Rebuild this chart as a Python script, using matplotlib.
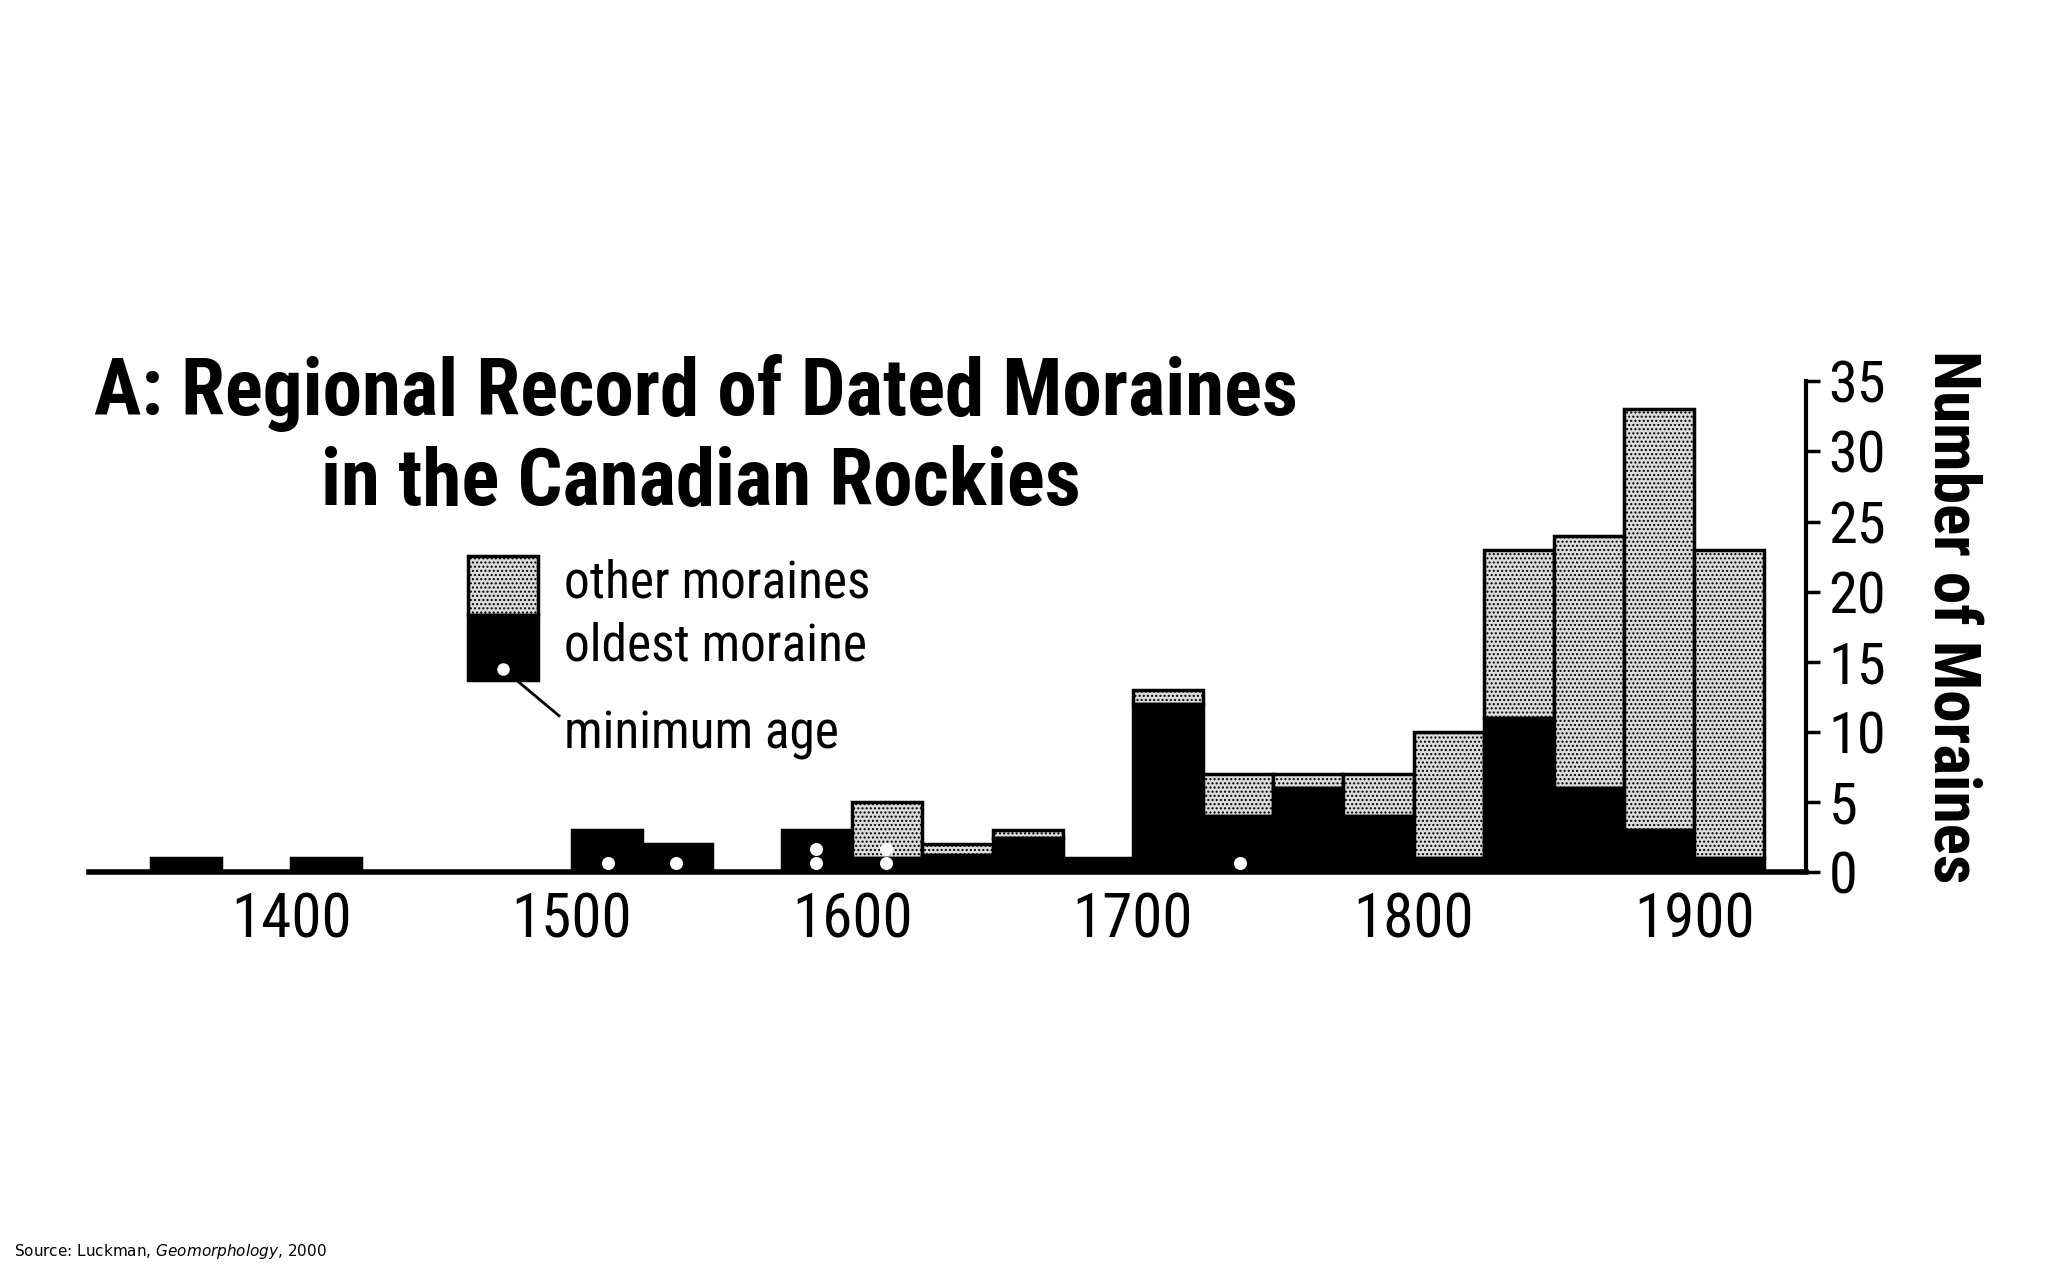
import matplotlib
matplotlib.use("Agg")
import matplotlib.pyplot as plt
from matplotlib.patches import Rectangle
from matplotlib.lines import Line2D
import numpy as np

bin_starts = [1350,1375,1400,1425,1450,1475,1500,1525,1550,1575,1600,1625,1650,1675,
              1700,1725,1750,1775,1800,1825,1850,1875,1900]
oldest = [1,0,1,0,0,0,3,2,0,3,1,1.2,2.4,1,12,4,6,4,1,11,6,3,1]
total  = [1,0,1,0,0,0,3,2,0,3,5,2,3,1,13,7,7,7,10,23,24,33,23]
dot_years = [1513,1537,1587,1587,1612,1612,1738]
dot_levels = [0.6,0.6,0.6,1.6,0.6,1.6,0.6]
xticks = [1400,1500,1600,1700,1800,1900]
yticks = [0,5,10,15,20,25,30,35]

FONT = ['Liberation Sans Narrow', 'Roboto Condensed', 'Liberation Sans', 'DejaVu Sans']
plt.rcParams['font.family'] = FONT

fig = plt.figure(figsize=(20.48,12.8), dpi=100)
ax = fig.add_axes([0.0435,0.319,0.8385,0.383])
w = 25
grey = '#dcdcdc'
for x0,o,t in zip(bin_starts,oldest,total):
    if t > o:
        ax.bar(x0, t-o, width=w, bottom=o, align='edge', color=grey, edgecolor='black',
               linewidth=2.5, hatch='....')
    if o > 0:
        ax.bar(x0, o, width=w, align='edge', color='black', edgecolor='black', linewidth=2.5)
ax.scatter(dot_years, dot_levels, s=70, color='white', marker='o', zorder=5)

ax.set_xlim(1328,1940)
ax.set_ylim(0,35)
for s in ['top','left']:
    ax.spines[s].set_visible(False)
ax.spines['bottom'].set_linewidth(4)
ax.spines['right'].set_linewidth(3)
ax.yaxis.tick_right()
ax.set_yticks(yticks)
ax.set_xticks(xticks)
ax.tick_params(axis='x', length=0, labelsize=44, pad=14)
ax.tick_params(axis='y', length=10, width=2.5, labelsize=42, pad=6)
for lab in ax.get_xticklabels()+ax.get_yticklabels():
    lab.set_family(FONT)

ax.text(1.085, 0.52, 'Number of Moraines', transform=ax.transAxes, rotation=-90,
        ha='center', va='center', fontsize=47, fontweight='bold', family=FONT)

fig.text(0.34, 0.693, 'A: Regional Record of Dated Moraines', ha='center', va='center',
         fontsize=57, fontweight='bold', family=FONT)
fig.text(0.342, 0.622, 'in the Canadian Rockies', ha='center', va='center',
         fontsize=57, fontweight='bold', family=FONT)

# legend
lx0, lx1 = 358/1568, 412/1568
ytop, ymid, ybot = 1-426/980, 1-471/980, 1-521/980
fig.add_artist(Rectangle((lx0, ymid), lx1-lx0, ytop-ymid, transform=fig.transFigure,
               facecolor=grey, edgecolor='black', linewidth=2.5, hatch='....'))
fig.add_artist(Rectangle((lx0, ybot), lx1-lx0, ymid-ybot, transform=fig.transFigure,
               facecolor='black', edgecolor='black', linewidth=2.5))
fig.add_artist(Line2D([385/1568, 428/1568], [1-512/980, 1-548/980], transform=fig.transFigure,
               color='black', linewidth=2))
fig.add_artist(Line2D([385/1568], [1-512/980], transform=fig.transFigure, marker='o',
               markersize=8, color='white', markeredgecolor='white'))
fig.text(432/1568, 1-447/980, 'other moraines', va='center', fontsize=37, family=FONT)
fig.text(432/1568, 1-495/980, 'oldest moraine', va='center', fontsize=37, family=FONT)
fig.text(432/1568, 1-563/980, 'minimum age', va='center', fontsize=37, family=FONT)

fig.text(0.007, 0.022, 'Source: Luckman, $\\it{Geomorphology}$, 2000', fontsize=11,
         family='DejaVu Sans', va='center')

fig.savefig('out.png', dpi=100, facecolor='white')
